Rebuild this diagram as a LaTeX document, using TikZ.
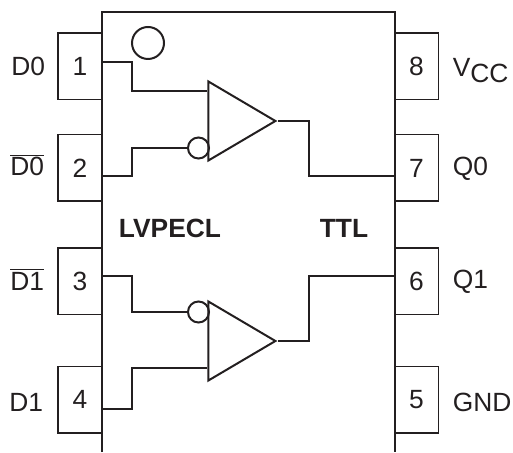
\documentclass[tikz,border=0pt]{standalone}
\usepackage{fontspec}
\setmainfont{Liberation Sans}
\usetikzlibrary{shapes.geometric}
\definecolor{inkcol}{HTML}{231F20}
\tikzset{
  pinbox/.style={draw=inkcol,line width=0.03cm,minimum width=0.88cm,minimum height=1.33cm,inner sep=0,text=inkcol,font=\fontsize{15}{17}\selectfont},
  wire/.style={draw=inkcol,line width=0.04cm},
  bufr/.style={isosceles triangle,isosceles triangle stretches,shape border rotate=0,draw=inkcol,line width=0.04cm,minimum width=1.58cm,minimum height=1.34cm,inner sep=0,anchor=apex},
  bubble/.style={circle,draw=inkcol,line width=0.04cm,minimum size=0.42cm,inner sep=0},
  pinname/.style={text=inkcol,inner sep=0,font=\fontsize{15}{17}\selectfont},
  sidename/.style={text=inkcol,inner sep=0,font=\fontsize{15}{17}\selectfont\bfseries}
}
\begin{document}
\begin{tikzpicture}
  \useasboundingbox (0,0) rectangle (10.26,9.04);

  % Drawing chip body
  \coordinate (bl) at (2.04,0);
  \coordinate (tl) at (2.04,8.80);
  \coordinate (tr) at (7.89,8.80);
  \coordinate (br) at (7.89,0);
  \draw [wire] (bl) -- (tl) -- (tr) -- (br);

  % Marking pin one
  \node [bubble,minimum size=0.64cm] (dot) at (2.96,8.18) {};

  % Drawing left pins
  \node [pinbox] (pin1) at (1.60,7.71) {1};
  \node [pinbox] (pin2) at (1.60,5.68) {2};
  \node [pinbox] (pin3) at (1.60,3.41) {3};
  \node [pinbox] (pin4) at (1.60,1.05) {4};

  % Drawing right pins
  \node [pinbox] (pin8) at (8.33,7.71) {8};
  \node [pinbox] (pin7) at (8.33,5.68) {7};
  \node [pinbox] (pin6) at (8.33,3.41) {6};
  \node [pinbox] (pin5) at (8.33,1.05) {5};

  % Drawing buffers
  \node [bufr] (bufa) at (5.56,6.62) {};
  \node [bufr] (bufb) at (5.56,2.22) {};
  \node [bubble] (buba) at (3.97,6.08) {};
  \node [bubble] (bubb) at (3.97,2.80) {};

  % Drawing lines into buffer a
  \draw [wire] ([yshift=0.08cm]pin1.east) -- ++(0.58,0) |- ([yshift=0.60cm]bufa.lower side);
  \draw [wire] ([yshift=-0.16cm]pin2.east) -- ++(0.58,0) |- (buba.west);

  % Drawing lines into buffer b
  \draw [wire] ([yshift=0.10cm]pin3.east) -- ++(0.58,0) |- (bubb.west);
  \draw [wire] ([yshift=-0.18cm]pin4.east) -- ++(0.58,0) |- ([yshift=-0.54cm]bufb.lower side);

  % Drawing lines out of the buffers
  \draw [wire] (bufa.apex) -- ++(0.62,0) |- ([yshift=-0.16cm]pin7.west);
  \draw [wire] (bufb.apex) -- ++(0.62,0) |- ([yshift=0.10cm]pin6.west);

  % Marking pin names
  \node [pinname,anchor=west] (nd0) at (0.22,7.72) {D0};
  \node [pinname,anchor=west] (nnd0) at (0.20,5.74) {$\overline{\mbox{D0}}$};
  \node [pinname,anchor=west] (nnd1) at (0.20,3.45) {$\overline{\mbox{D1}}$};
  \node [pinname,anchor=west] (nd1) at (0.18,1.00) {D1};
  \node [pinname,anchor=west] (nvcc) at (9.05,7.62) {V\raisebox{-0.12cm}{CC}};
  \node [pinname,anchor=west] (nq0) at (9.05,5.67) {Q0};
  \node [pinname,anchor=west] (nq1) at (9.05,3.40) {Q1};
  \node [pinname,anchor=west] (ngnd) at (9.05,1.00) {GND};

  % Marking signal levels
  \node [sidename] (lvpecl) at (3.40,4.47) {LVPECL};
  \node [sidename] (ttl) at (6.88,4.47) {TTL};
\end{tikzpicture}
\end{document}
